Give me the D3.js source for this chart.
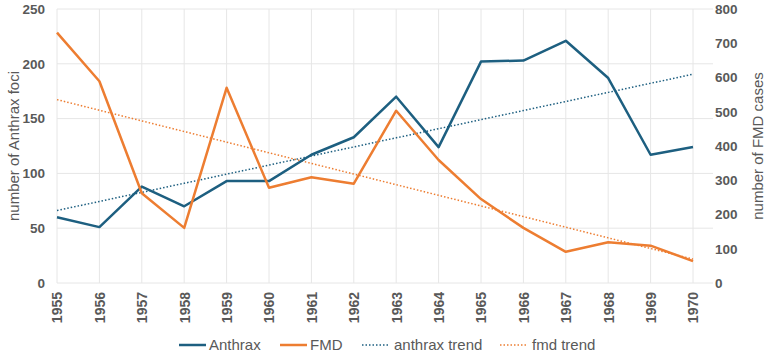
<!DOCTYPE html>
<html>
<head>
<meta charset="utf-8">
<script src="https://cdn.jsdelivr.net/npm/d3@7"></script>
<style>
  body { margin: 0; background: #fff; }
  svg { display: block; font-family: "Liberation Sans", Arial, sans-serif; }
</style>
</head>
<body>
<svg id="chart" width="767" height="357"></svg>
<script>
// data
const years = [1955,1956,1957,1958,1959,1960,1961,1962,1963,1964,1965,1966,1967,1968,1969,1970];
const anthrax = [60,51,88,70,93,93,117,133,170,124,202,203,221,187,117,124];
const fmd = [731,589,262,161,570,278,309,290,503,359,245,161,91,119,109,64];
const leftTicks = [0,50,100,150,200,250];
const rightTicks = [0,100,200,300,400,500,600,700,800];

const C_ANTH = "#1d5f80", C_FMD = "#ed7d31", TXT = "#595959", GRID = "#e6e6e6";

/* least squares trend over index */
function trend(vals) {
  const n = vals.length, mx = (n - 1) / 2, my = d3.mean(vals);
  let sxy = 0, sxx = 0;
  vals.forEach((v, i) => { sxy += (i - mx) * (v - my); sxx += (i - mx) * (i - mx); });
  const b = sxy / sxx, a = my - b * mx;
  return vals.map((v, i) => a + b * i);
}

const svg = d3.select("#chart");
const x = d3.scalePoint().domain(years).range([57, 693]);
const yL = d3.scaleLinear().domain([0, 250]).range([283, 9]);
const yR = d3.scaleLinear().domain([0, 800]).range([283, 9]);
const plotR = 713;

// grid
const g = svg.append("g");
g.selectAll("line.h").data(leftTicks).join("line")
  .attr("x1", 57).attr("x2", plotR)
  .attr("y1", d => yL(d)).attr("y2", d => yL(d))
  .attr("stroke", GRID).attr("stroke-width", 1);
g.selectAll("line.v").data(years).join("line")
  .attr("x1", d => x(d)).attr("x2", d => x(d))
  .attr("y1", yL(0)).attr("y2", yL(250))
  .attr("stroke", GRID).attr("stroke-width", 1);

// axes
const axL = svg.append("g").attr("transform", "translate(57,0)")
  .call(d3.axisLeft(yL).tickValues(leftTicks).tickSize(0).tickPadding(12));
const axR = svg.append("g").attr("transform", `translate(${plotR},0)`)
  .call(d3.axisRight(yR).tickValues(rightTicks).tickSize(0).tickPadding(2));
const axB = svg.append("g").attr("transform", `translate(0,${yL(0)})`)
  .call(d3.axisBottom(x).tickSize(0).tickFormat(d3.format("d")));
[axL, axR, axB].forEach(a => {
  a.select(".domain").remove();
  a.selectAll("text").attr("fill", TXT).style("font-size", "13.5px").style("font-weight", "bold");
});
axB.selectAll("text")
  .style("font-size", "14px")
  .attr("transform", "rotate(-90)")
  .attr("text-anchor", "end")
  .attr("x", -9).attr("y", 0).attr("dy", "0.35em");

// axis titles
svg.append("text").attr("transform", "translate(19,146) rotate(-90)")
  .attr("text-anchor", "middle").attr("fill", TXT).style("font-size", "15px")
  .text("number of Anthrax foci");
svg.append("text").attr("transform", "translate(763,146) rotate(-90)")
  .attr("text-anchor", "middle").attr("fill", TXT).style("font-size", "15px")
  .text("number of FMD cases");

// lines
const lineL = d3.line().x((d, i) => x(years[i])).y(d => yL(d));
const lineR = d3.line().x((d, i) => x(years[i])).y(d => yR(d));

svg.append("path").datum(trend(anthrax)).attr("d", lineL)
  .attr("fill", "none").attr("stroke", C_ANTH).attr("stroke-width", 1.5).attr("stroke-dasharray", "1.5,2");
svg.append("path").datum(trend(fmd)).attr("d", lineR)
  .attr("fill", "none").attr("stroke", C_FMD).attr("stroke-width", 1.5).attr("stroke-dasharray", "1.5,2");
svg.append("path").datum(anthrax).attr("d", lineL)
  .attr("fill", "none").attr("stroke", C_ANTH).attr("stroke-width", 2.5).attr("stroke-linejoin", "round");
svg.append("path").datum(fmd).attr("d", lineR)
  .attr("fill", "none").attr("stroke", C_FMD).attr("stroke-width", 2.5).attr("stroke-linejoin", "round");

// legend
const legend = [
  { label: "Anthrax", color: C_ANTH, dash: null, x: 179 },
  { label: "FMD", color: C_FMD, dash: null, x: 280 },
  { label: "anthrax trend", color: C_ANTH, dash: "1.5,2", x: 362 },
  { label: "fmd trend", color: C_FMD, dash: "1.5,2", x: 500 }
];
const lg = svg.append("g").attr("transform", "translate(0,345)");
const items = lg.selectAll("g").data(legend).join("g").attr("transform", d => `translate(${d.x},0)`);
items.append("line").attr("x1", 0).attr("x2", 27).attr("y1", 0).attr("y2", 0)
  .attr("stroke", d => d.color)
  .attr("stroke-width", d => d.dash ? 1.5 : 2.5)
  .attr("stroke-dasharray", d => d.dash);
items.append("text").attr("x", d => d.dash ? 32 : 30).attr("dy", "0.35em")
  .attr("fill", TXT).style("font-size", "15px").text(d => d.label);
</script>
</body>
</html>
